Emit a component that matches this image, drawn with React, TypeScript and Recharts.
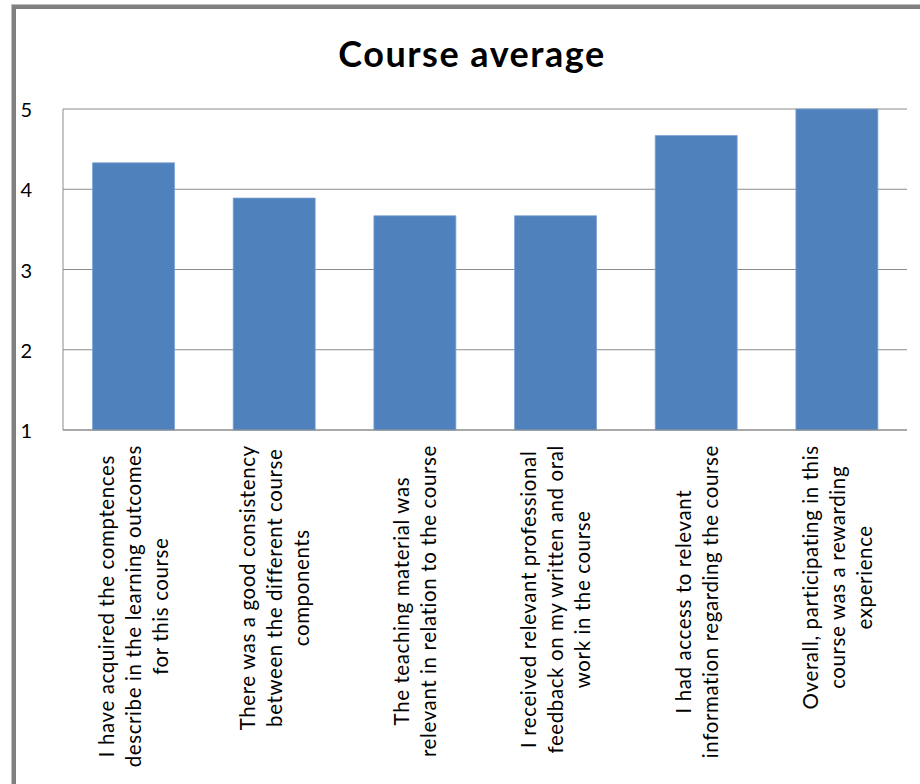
import { Bar, BarChart, CartesianGrid, XAxis, YAxis } from "recharts";

const labelLines: string[][] = [
  ["I have acquired the comptences", "describe in the learning outcomes", "for this course"],
  ["There was a good consistency", "between the different course", "components"],
  ["The teaching material was", "relevant in relation to the course"],
  ["I received relevant professional", "feedback on my written and oral", "work in the course"],
  ["I had access to relevant", "information regarding the course"],
  ["Overall, participating in this", "course was a rewarding", "experience"],
];
const averages = [4.33, 3.89, 3.67, 3.67, 4.67, 5];
const yTicks = [1, 2, 3, 4, 5];

const data = labelLines.map((lines, i) => ({ name: lines.join(" "), value: averages[i] }));

const FONT = "Lato, 'Open Sans', sans-serif";
const LABEL_SIZE = 20.5;
const LABEL_SPACING = 0.6;

let ctx: CanvasRenderingContext2D | null = null;
function textWidth(s: string) {
  if (!ctx) ctx = document.createElement("canvas").getContext("2d");
  if (!ctx) return s.length * LABEL_SIZE * 0.5;
  ctx.font = `${LABEL_SIZE}px Lato`;
  return ctx.measureText(s).width + s.length * LABEL_SPACING;
}

function CategoryTick(props: any) {
  const { x, payload, index } = props;
  const lines = labelLines[index] ?? [String(payload.value)];
  const maxW = Math.max(...lines.map(textWidth));
  const cy = 445 + maxW / 2;
  return (
    <g>
      {lines.map((line, i) => (
        <text
          key={i}
          transform={`translate(${x + (i - (lines.length - 1) / 2) * 27}, ${cy}) rotate(-90)`}
          textAnchor="middle"
          dominantBaseline="central"
          fontFamily={FONT}
          fontSize={LABEL_SIZE}
          letterSpacing={LABEL_SPACING}
          fill="#000"
        >
          {line}
        </text>
      ))}
    </g>
  );
}

function ValueTick(props: any) {
  const { x, y, payload } = props;
  return (
    <text x={x - 23} y={y} textAnchor="end" dominantBaseline="central" fontFamily={FONT} fontSize={20} fill="#000">
      {payload.value}
    </text>
  );
}

export default function App() {
  return (
    <div style={{ position: "absolute", left: 0, top: 0, width: 920, height: 784, background: "#fff", overflow: "hidden" }}>
      <div
        style={{
          position: "absolute",
          left: 12,
          top: 5,
          width: 920,
          height: 777,
          borderLeft: "4px solid #808080",
          borderTop: "4px solid #808080",
          borderBottom: "1px solid #d9d9d9",
          boxShadow: "-1px -1px 0 #c0c0c0",
        }}
      />
      <div
        style={{
          position: "absolute",
          left: 222,
          width: 500,
          top: 31,
          textAlign: "center",
          fontFamily: FONT,
          fontWeight: 700,
          fontSize: 36,
          letterSpacing: 1.5,
          color: "#000",
        }}
      >
        Course average
      </div>
      <div style={{ position: "absolute", left: 0, top: 0 }}>
        <BarChart width={920} height={784} data={data} margin={{ top: 109, right: 13, bottom: 14, left: 0 }} barCategoryGap="21%">
          <CartesianGrid vertical={false} stroke="#8c8c8c" strokeWidth={1} />
          <XAxis dataKey="name" interval={0} height={340} tickLine={false} axisLine={{ stroke: "#8c8c8c" }} tick={<CategoryTick />} />
          <YAxis
            width={63}
            domain={[1, 5]}
            ticks={yTicks}
            tickLine={false}
            axisLine={{ stroke: "#8c8c8c" }}
            tick={<ValueTick />}
          />
          <Bar dataKey="value" fill="#4F81BD" stroke="#7da3d4" strokeWidth={0.75} isAnimationActive={false} />
        </BarChart>
      </div>
    </div>
  );
}
